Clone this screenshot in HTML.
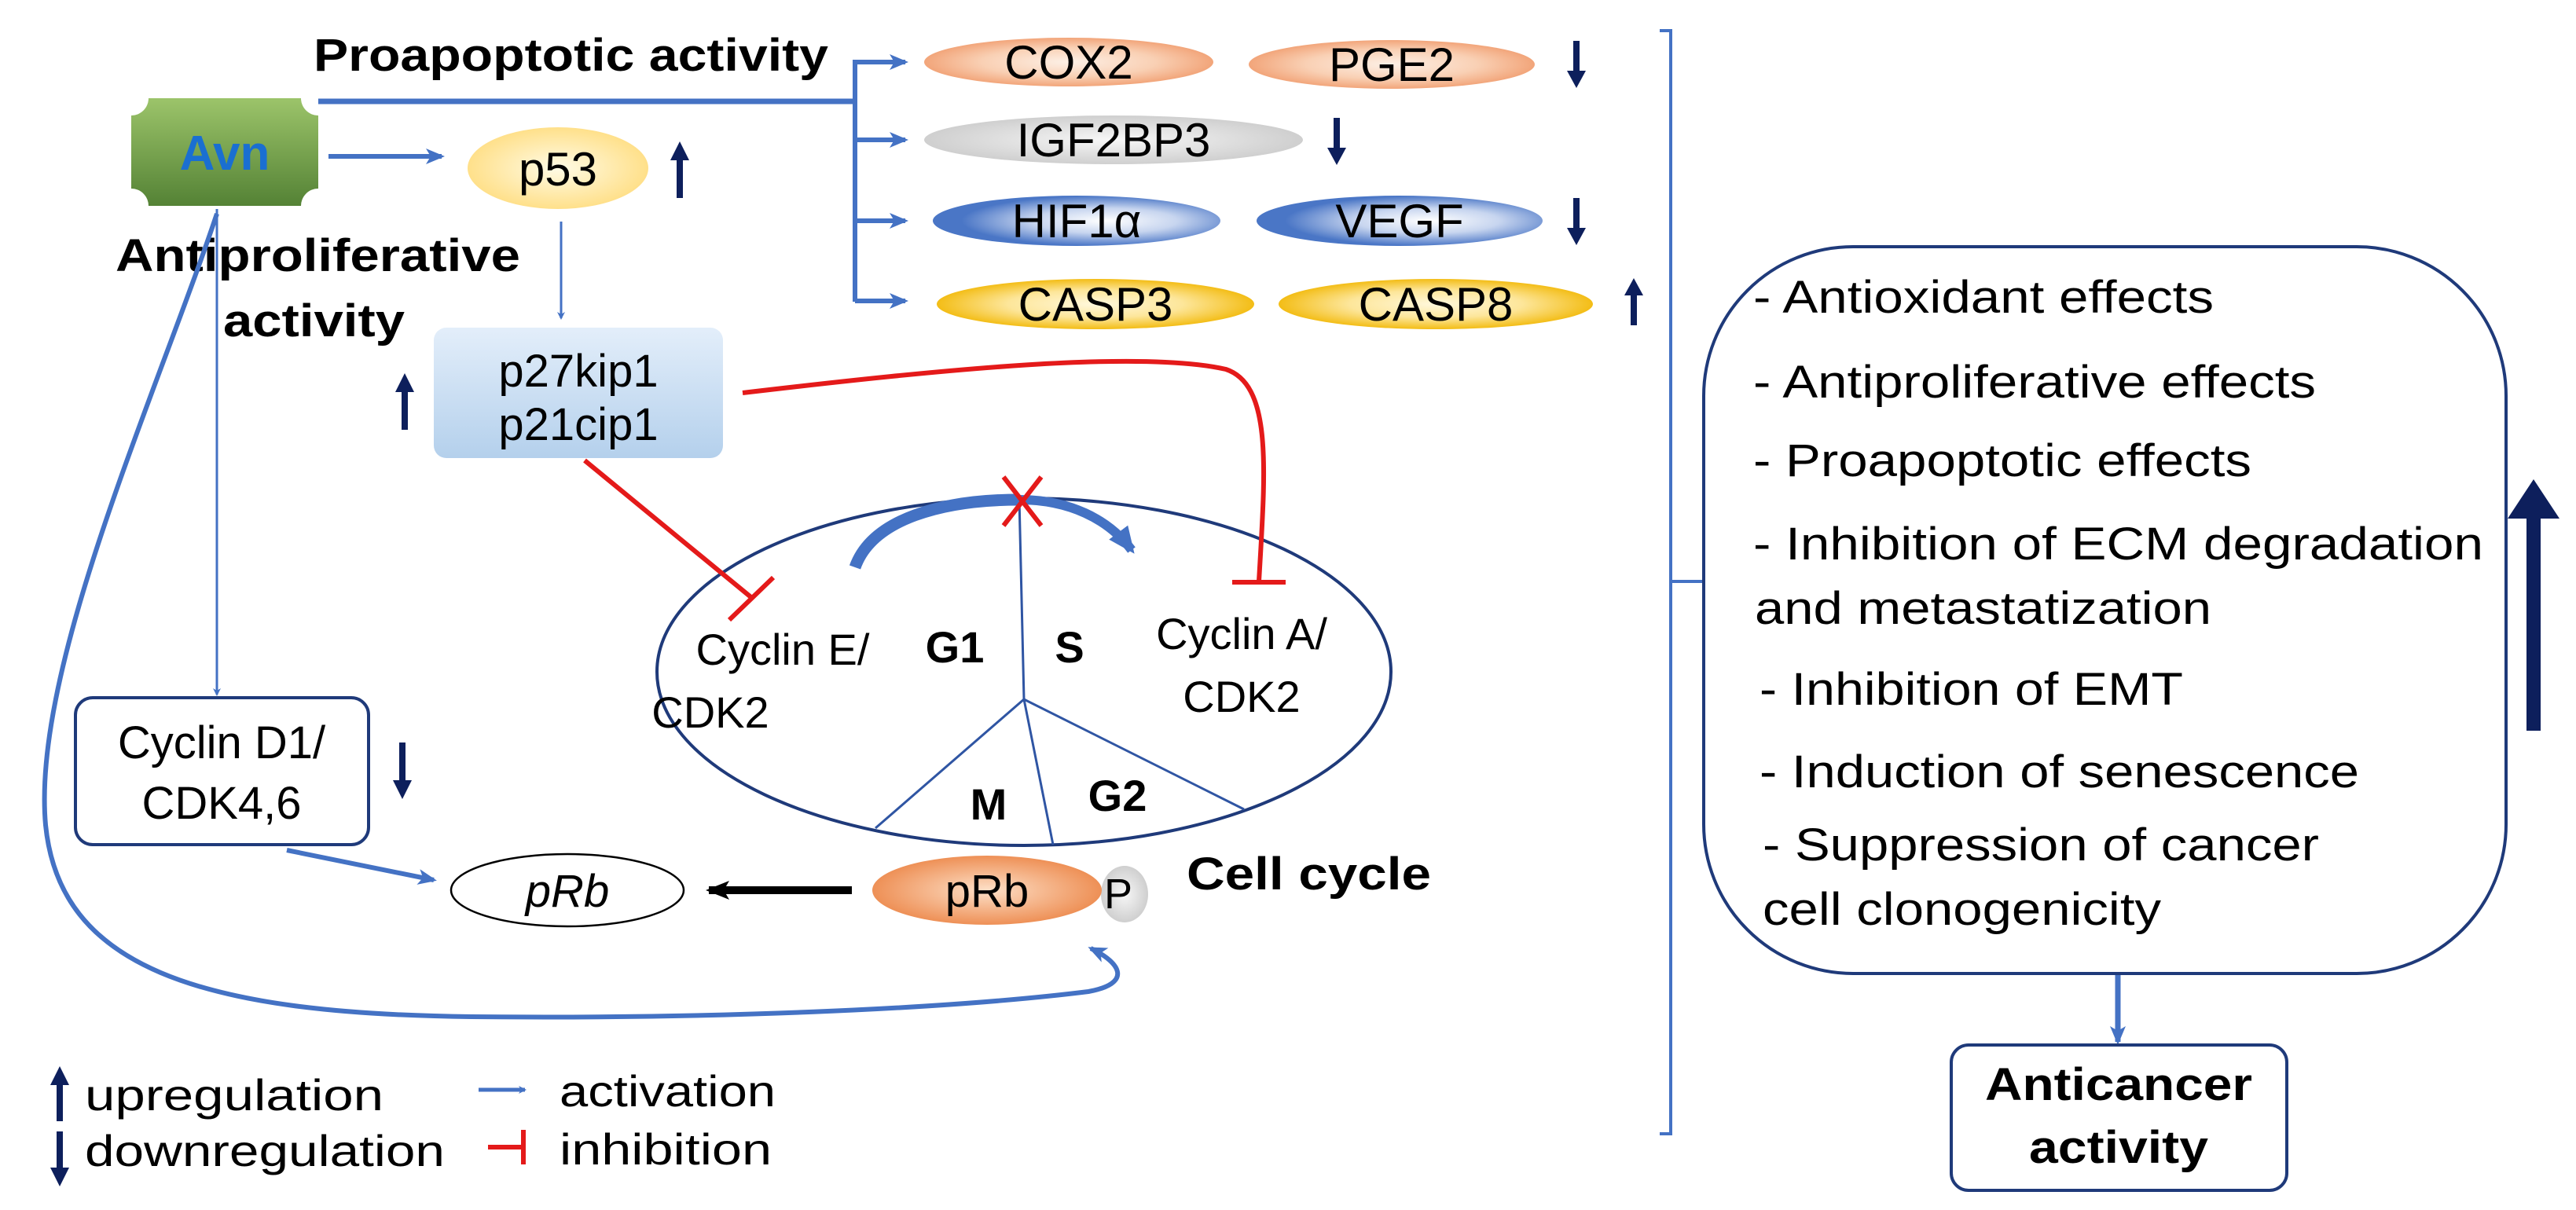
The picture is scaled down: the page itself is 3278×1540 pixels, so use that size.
<!DOCTYPE html>
<html><head><meta charset="utf-8"><style>html,body{margin:0;padding:0;background:#fff}svg{display:block}</style></head>
<body>
<svg width="3278" height="1540" viewBox="0 0 3278 1540" xmlns="http://www.w3.org/2000/svg" font-family="'Liberation Sans', Arial, sans-serif">
<defs>
<marker id="ab" markerWidth="10" markerHeight="10" refX="8" refY="5" orient="auto" markerUnits="userSpaceOnUse" viewBox="0 0 10 10"><path d="M0,0 L10,5 L0,10 L3,5 Z" fill="#4472c4"/></marker>
<marker id="abig" markerWidth="24" markerHeight="24" refX="20" refY="12" orient="auto" markerUnits="userSpaceOnUse" viewBox="0 0 24 24"><path d="M0,2 L24,12 L0,22 L6,12 Z" fill="#4472c4"/></marker>
<marker id="ablk" markerWidth="30" markerHeight="30" refX="26" refY="15" orient="auto" markerUnits="userSpaceOnUse" viewBox="0 0 30 30"><path d="M0,3 L30,15 L0,27 L7,15 Z" fill="#000"/></marker>
<marker id="acc" markerWidth="34" markerHeight="34" refX="28" refY="17" orient="auto" markerUnits="userSpaceOnUse" viewBox="0 0 34 34"><path d="M0,2 L34,17 L0,32 Z" fill="#4472c4"/></marker>
<linearGradient id="gAvn" x1="0" y1="0" x2="0" y2="1"><stop offset="0" stop-color="#9cc46a"/><stop offset="1" stop-color="#548235"/></linearGradient>
<radialGradient id="gPeach"><stop offset="0" stop-color="#fdf0e6"/><stop offset="0.6" stop-color="#f9d0b4"/><stop offset="1" stop-color="#f2a57a"/></radialGradient>
<radialGradient id="gGrey"><stop offset="0" stop-color="#f7f7f7"/><stop offset="1" stop-color="#cfcfcf"/></radialGradient>
<radialGradient id="gBlue" cx="0.6"><stop offset="0" stop-color="#ffffff"/><stop offset="0.5" stop-color="#c7d5ef"/><stop offset="1" stop-color="#4a76c6"/></radialGradient>
<radialGradient id="gYel"><stop offset="0" stop-color="#fff8dc"/><stop offset="0.55" stop-color="#fde69a"/><stop offset="1" stop-color="#f3bd16"/></radialGradient>
<radialGradient id="gP53"><stop offset="0" stop-color="#fffbe6"/><stop offset="1" stop-color="#ffe08a"/></radialGradient>
<linearGradient id="gP27" x1="0" y1="0" x2="0" y2="1"><stop offset="0" stop-color="#e3eefa"/><stop offset="1" stop-color="#b4d0ec"/></linearGradient>
<radialGradient id="gPRb"><stop offset="0" stop-color="#fde0c8"/><stop offset="1" stop-color="#ee9056"/></radialGradient>
</defs>

<!-- Proapoptotic heading -->
<text x="399" y="90" font-size="58" font-weight="bold" textLength="655" lengthAdjust="spacingAndGlyphs">Proapoptotic activity</text>

<!-- Avn -->
<path d="M189,125 H383 A22,22 0 0 0 405,147 V240 A22,22 0 0 0 383,262 H189 A22,22 0 0 0 167,240 V147 A22,22 0 0 0 189,125 Z" fill="url(#gAvn)"/>
<text x="286" y="216" font-size="62" font-weight="bold" fill="#1a6fd1" text-anchor="middle">Avn</text>

<!-- main line to bracket -->
<polyline points="405,129 1088,129" fill="none" stroke="#4472c4" stroke-width="7"/>
<line x1="1088" y1="76" x2="1088" y2="384" stroke="#4472c4" stroke-width="6"/>
<g stroke="#4472c4" stroke-width="6" marker-end="url(#abig)">
<line x1="1088" y1="79" x2="1152" y2="79"/>
<line x1="1088" y1="178" x2="1152" y2="178"/>
<line x1="1088" y1="281" x2="1152" y2="281"/>
<line x1="1088" y1="383" x2="1152" y2="383"/>
</g>

<!-- protein ellipses -->
<ellipse cx="1360" cy="79" rx="184" ry="31" fill="url(#gPeach)"/>
<text x="1360" y="100" font-size="60" text-anchor="middle">COX2</text>
<ellipse cx="1771" cy="82" rx="182" ry="31" fill="url(#gPeach)"/>
<text x="1771" y="103" font-size="60" text-anchor="middle">PGE2</text>
<ellipse cx="1417" cy="178" rx="241" ry="31" fill="url(#gGrey)"/>
<text x="1417" y="199" font-size="60" text-anchor="middle">IGF2BP3</text>
<ellipse cx="1370" cy="281" rx="183" ry="32" fill="url(#gBlue)"/>
<text x="1370" y="302" font-size="60" text-anchor="middle">HIF1α</text>
<ellipse cx="1781" cy="281" rx="182" ry="32" fill="url(#gBlue)"/>
<text x="1781" y="302" font-size="60" text-anchor="middle">VEGF</text>
<ellipse cx="1394" cy="387" rx="202" ry="32" fill="url(#gYel)"/>
<text x="1394" y="408" font-size="60" text-anchor="middle">CASP3</text>
<ellipse cx="1827" cy="387" rx="200" ry="32" fill="url(#gYel)"/>
<text x="1827" y="408" font-size="60" text-anchor="middle">CASP8</text>

<!-- navy up/down arrows -->
<g fill="#0d1f5c">
<path d="M2002,52 h8 v38 h8 l-12,22 l-12,-22 h8 Z"/>
<path d="M1697,150 h8 v38 h8 l-12,22 l-12,-22 h8 Z"/>
<path d="M2002,252 h8 v38 h8 l-12,22 l-12,-22 h8 Z"/>
<path d="M2075,414 h8 v-38 h8 l-12,-22 l-12,22 h8 Z"/>
<path d="M861,252 h8 v-48 h8 l-12,-24 l-12,24 h8 Z"/>
<path d="M511,547 h8 v-48 h8 l-12,-24 l-12,24 h8 Z"/>
<path d="M508,945 h8 v48 h8 l-12,24 l-12,-24 h8 Z"/>
</g>

<!-- p53 -->
<line x1="418" y1="199" x2="562" y2="199" stroke="#4472c4" stroke-width="6" marker-end="url(#abig)"/>
<ellipse cx="710" cy="214" rx="115" ry="52" fill="url(#gP53)"/>
<text x="710" y="236" font-size="60" text-anchor="middle">p53</text>
<line x1="714" y1="282" x2="714" y2="405" stroke="#4472c4" stroke-width="3" marker-end="url(#ab)"/>

<!-- Antiproliferative -->
<text x="147" y="345" font-size="58" font-weight="bold" textLength="515" lengthAdjust="spacingAndGlyphs">Antiproliferative</text>
<text x="284" y="428" font-size="58" font-weight="bold" textLength="231" lengthAdjust="spacingAndGlyphs">activity</text>

<!-- p27/p21 box -->
<rect x="552" y="417" width="368" height="166" rx="16" fill="url(#gP27)"/>
<text x="736" y="492" font-size="58" text-anchor="middle">p27kip1</text>
<text x="736" y="560" font-size="58" text-anchor="middle">p21cip1</text>

<!-- vertical arrow to Cyclin D1 -->
<line x1="276" y1="266" x2="276" y2="884" stroke="#4472c4" stroke-width="3" marker-end="url(#ab)"/>

<!-- big curve -->
<path d="M276,272 C200,500 40,850 58,1050 C76,1230 250,1290 600,1294 C900,1297 1200,1285 1385,1262 C1440,1252 1428,1226 1388,1207" fill="none" stroke="#4472c4" stroke-width="6" marker-end="url(#abig)"/>

<!-- Cyclin D1 box -->
<rect x="96" y="888" width="373" height="187" rx="22" fill="#fff" stroke="#1f3a7a" stroke-width="4"/>
<text x="282" y="965" font-size="58" text-anchor="middle">Cyclin D1/</text>
<text x="282" y="1042" font-size="58" text-anchor="middle">CDK4,6</text>
<line x1="365" y1="1082" x2="552" y2="1120" stroke="#4472c4" stroke-width="6" marker-end="url(#abig)"/>

<!-- pRb -->
<ellipse cx="722" cy="1133" rx="148" ry="46" fill="#fff" stroke="#000" stroke-width="2.5"/>
<text x="722" y="1154" font-size="58" font-style="italic" text-anchor="middle">pRb</text>
<line x1="1084" y1="1133" x2="902" y2="1133" stroke="#000" stroke-width="10" marker-end="url(#ablk)"/>
<ellipse cx="1431" cy="1138" rx="30" ry="36" fill="url(#gGrey)"/>
<ellipse cx="1256" cy="1133" rx="146" ry="44" fill="url(#gPRb)"/>
<text x="1256" y="1154" font-size="58" text-anchor="middle">pRb</text>
<text x="1423" y="1156" font-size="54" text-anchor="middle">P</text>
<text x="1510" y="1132" font-size="58" font-weight="bold" textLength="311" lengthAdjust="spacingAndGlyphs">Cell cycle</text>

<!-- cell cycle ellipse -->
<ellipse cx="1303" cy="855" rx="467" ry="221" fill="none" stroke="#1f3a7a" stroke-width="4"/>
<g stroke="#2f55a3" stroke-width="3" fill="none">
<line x1="1297" y1="634" x2="1303" y2="890"/>
<line x1="1303" y1="890" x2="1114" y2="1054"/>
<line x1="1303" y1="890" x2="1340" y2="1075"/>
<line x1="1303" y1="890" x2="1583" y2="1030"/>
</g>
<path d="M1088,722 C1110,660 1200,636 1297,636" fill="none" stroke="#4472c4" stroke-width="15"/>
<path d="M1297,636 C1360,636 1410,660 1440,700" fill="none" stroke="#4472c4" stroke-width="12" marker-end="url(#acc)"/>
<g stroke="#e41a1a" stroke-width="6"><line x1="1277" y1="607" x2="1325" y2="669"/><line x1="1325" y1="607" x2="1277" y2="669"/></g>

<text x="996" y="846" font-size="56" text-anchor="middle">Cyclin E/</text>
<text x="904" y="926" font-size="56" text-anchor="middle">CDK2</text>
<text x="1215" y="843" font-size="56" font-weight="bold" text-anchor="middle">G1</text>
<text x="1361" y="843" font-size="56" font-weight="bold" text-anchor="middle">S</text>
<text x="1580" y="826" font-size="56" text-anchor="middle">Cyclin A/</text>
<text x="1580" y="906" font-size="56" text-anchor="middle">CDK2</text>
<text x="1258" y="1043" font-size="56" font-weight="bold" text-anchor="middle">M</text>
<text x="1422" y="1032" font-size="56" font-weight="bold" text-anchor="middle">G2</text>

<!-- red inhibitions -->
<g stroke="#e41a1a" stroke-width="6" fill="none">
<path d="M945,500 C1200,470 1450,445 1560,470 C1620,490 1610,600 1602,740"/>
<line x1="1568" y1="741" x2="1636" y2="741"/>
<line x1="744" y1="586" x2="958" y2="762"/>
<line x1="928" y1="789" x2="984" y2="735"/>
</g>

<!-- legend -->
<path d="M72,1427 h8 v-46 h8 l-12,-24 l-12,24 h8 Z" fill="#0d1f5c"/>
<text x="108" y="1413" font-size="56" textLength="380" lengthAdjust="spacingAndGlyphs">upregulation</text>
<path d="M72,1440 h8 v46 h8 l-12,24 l-12,-24 h8 Z" fill="#0d1f5c"/>
<text x="108" y="1484" font-size="56" textLength="458" lengthAdjust="spacingAndGlyphs">downregulation</text>
<line x1="609" y1="1387" x2="668" y2="1387" stroke="#4472c4" stroke-width="5" marker-end="url(#ab)"/>
<text x="712" y="1408" font-size="56" textLength="275" lengthAdjust="spacingAndGlyphs">activation</text>
<g stroke="#e41a1a" stroke-width="6"><line x1="621" y1="1460" x2="666" y2="1460"/><line x1="666" y1="1438" x2="666" y2="1482"/></g>
<text x="712" y="1482" font-size="56" textLength="270" lengthAdjust="spacingAndGlyphs">inhibition</text>

<!-- right bracket -->
<g stroke="#4472c4" stroke-width="4" fill="none">
<polyline points="2112,39 2126,39 2126,1443 2112,1443"/>
<line x1="2126" y1="740" x2="2168" y2="740"/>
</g>

<!-- big box -->
<rect x="2168" y="314" width="1021" height="925" rx="190" fill="#fff" stroke="#1f3a7a" stroke-width="4"/>
<g font-size="58">
<text x="2231" y="398" textLength="586" lengthAdjust="spacingAndGlyphs">- Antioxidant effects</text>
<text x="2231" y="506" textLength="716" lengthAdjust="spacingAndGlyphs">- Antiproliferative effects</text>
<text x="2231" y="606" textLength="634" lengthAdjust="spacingAndGlyphs">- Proapoptotic effects</text>
<text x="2231" y="712" textLength="929" lengthAdjust="spacingAndGlyphs">- Inhibition of ECM degradation</text>
<text x="2233" y="794" textLength="581" lengthAdjust="spacingAndGlyphs">and metastatization</text>
<text x="2239" y="897" textLength="539" lengthAdjust="spacingAndGlyphs">- Inhibition of EMT</text>
<text x="2239" y="1002" textLength="763" lengthAdjust="spacingAndGlyphs">- Induction of senescence</text>
<text x="2243" y="1095" textLength="708" lengthAdjust="spacingAndGlyphs">- Suppression of cancer</text>
<text x="2243" y="1177" textLength="507" lengthAdjust="spacingAndGlyphs">cell clonogenicity</text>
</g>
<path d="M3215,930 h18 v-270 h24 l-33,-50 l-33,50 h24 Z" fill="#0d1f5c"/>

<!-- to anticancer -->
<line x1="2695" y1="1241" x2="2695" y2="1326" stroke="#4472c4" stroke-width="7" marker-end="url(#abig)"/>
<rect x="2483" y="1330" width="427" height="185" rx="22" fill="#fff" stroke="#1f3a7a" stroke-width="4"/>
<text x="2696" y="1400" font-size="58" font-weight="bold" text-anchor="middle" textLength="340" lengthAdjust="spacingAndGlyphs">Anticancer</text>
<text x="2696" y="1480" font-size="58" font-weight="bold" text-anchor="middle" textLength="228" lengthAdjust="spacingAndGlyphs">activity</text>
</svg>
</body></html>
